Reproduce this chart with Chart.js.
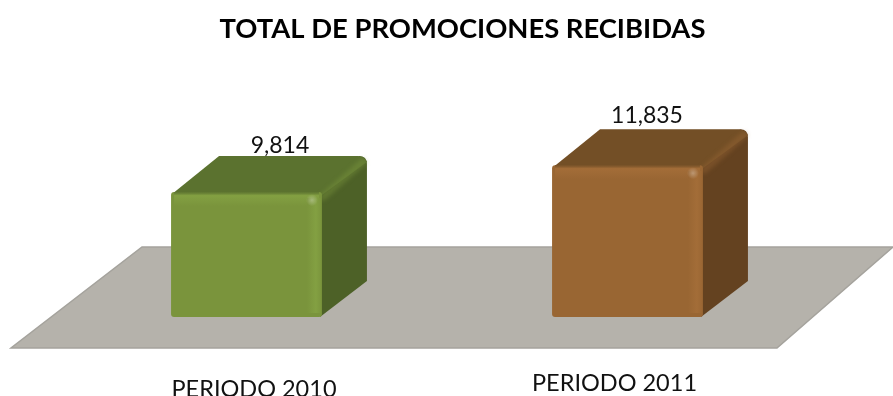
<!DOCTYPE html>
<html>
<head>
<meta charset="utf-8">
<script src="https://cdn.jsdelivr.net/npm/chart.js@4"></script>
<style>
  html, body { margin: 0; background: #fff; overflow: hidden; }
  canvas { display: block; }
</style>
</head>
<body>
<canvas id="chart" width="893" height="396"></canvas>
<script>
const periods = ['PERIODO 2010', 'PERIODO 2011'];
const promociones = [9814, 11835];
const chartTitle = 'TOTAL DE PROMOCIONES RECIBIDAS';
const axisMin = 460;
const axisMax = 15000;

const frontColors = ['#7a943c', '#996633'];
const edgeColors = ['#83a042', '#a36d38'];
const topColors = ['#5b722f', '#734f26'];
const sideColors = ['#4d6127', '#644220'];

// the original labels are not quite centred on their bars
const valueNudge = [[11, -3], [-3, -6]];
const tickNudge = [[7.5, 80], [-13, 74]];

const DEPTH_X = 45;
const DEPTH_Y = 36;
const TITLE_CENTER = 462.5;
const FONT = 'Lato, "Open Sans", sans-serif';

// Flat grey floor and the side/top faces go behind the bars
function drawFloor(chart) {
  const { ctx, chartArea } = chart;
  const b = chartArea.bottom;
  ctx.save();
  ctx.beginPath();
  ctx.moveTo(142, b - 70);
  ctx.lineTo(893, b - 70);
  ctx.lineTo(777, b + 31);
  ctx.lineTo(11, b + 31);
  ctx.closePath();
  ctx.fillStyle = '#b5b2ab';
  ctx.fill();
  ctx.strokeStyle = '#a5a39d';
  ctx.lineWidth = 1.5;
  ctx.stroke();
  ctx.restore();
}

function drawBack(ctx, bar, i) {
  const l = bar.x - bar.width / 2;
  const r = bar.x + bar.width / 2;
  const t = bar.y;
  const b = bar.base;

  ctx.fillStyle = sideColors[i];
  ctx.beginPath();
  ctx.moveTo(r - 2, t + 2);
  ctx.lineTo(r + DEPTH_X - 8, t - DEPTH_Y);
  ctx.quadraticCurveTo(r + DEPTH_X, t - DEPTH_Y, r + DEPTH_X, t - DEPTH_Y + 8);
  ctx.lineTo(r + DEPTH_X, b - DEPTH_Y);
  ctx.lineTo(r - 2, b);
  ctx.closePath();
  ctx.fill();

  ctx.fillStyle = topColors[i];
  ctx.beginPath();
  ctx.moveTo(l + 1, t + 2);
  ctx.lineTo(l + DEPTH_X + 3, t - DEPTH_Y);
  ctx.lineTo(r + DEPTH_X - 9, t - DEPTH_Y);
  ctx.quadraticCurveTo(r + DEPTH_X - 3, t - DEPTH_Y, r + DEPTH_X, t - DEPTH_Y + 6);
  ctx.lineTo(r, t + 3);
  ctx.closePath();
  ctx.fill();

  // soft lit edge between top and side
  ctx.save();
  ctx.strokeStyle = edgeColors[i];
  ctx.globalAlpha = 0.35;
  ctx.lineWidth = 7;
  ctx.lineCap = 'round';
  ctx.filter = 'blur(2px)';
  ctx.beginPath();
  ctx.moveTo(r + 1, t + 5);
  ctx.lineTo(r + DEPTH_X - 4, t - DEPTH_Y + 6);
  ctx.stroke();
  ctx.restore();
}

function drawBevel(ctx, bar, i) {
  const l = bar.x - bar.width / 2;
  const r = bar.x + bar.width / 2;
  const t = bar.y;
  const b = bar.base;

  ctx.save();
  let g = ctx.createLinearGradient(0, t, 0, t + 14);
  g.addColorStop(0, topColors[i]);
  g.addColorStop(0.25, edgeColors[i]);
  g.addColorStop(1, frontColors[i]);
  ctx.fillStyle = g;
  ctx.fillRect(l + 3, t, bar.width - 6, 14);

  g = ctx.createLinearGradient(r - 15, 0, r, 0);
  g.addColorStop(0, frontColors[i]);
  g.addColorStop(0.6, edgeColors[i]);
  g.addColorStop(1, frontColors[i]);
  ctx.fillStyle = g;
  ctx.fillRect(r - 15, t + 6, 14, b - t - 10);

  // small specular spot on the corner
  g = ctx.createRadialGradient(r - 10, t + 8, 0, r - 10, t + 8, 6);
  g.addColorStop(0, 'rgba(255,255,255,0.3)');
  g.addColorStop(1, 'rgba(255,255,255,0)');
  ctx.fillStyle = g;
  ctx.fillRect(r - 16, t + 2, 12, 12);
  ctx.restore();
}

const boxPlugin = {
  id: 'box3d',
  afterLayout(chart) {
    // the title sits right of the plot's centre in the original
    const shift = TITLE_CENTER - (chart.titleBlock.left + chart.titleBlock.right) / 2;
    chart.titleBlock.left += shift;
    chart.titleBlock.right += shift;
  },
  beforeDatasetsDraw(chart) {
    drawFloor(chart);
    chart.getDatasetMeta(0).data.forEach((bar, i) => drawBack(chart.ctx, bar, i));
  },
  afterDatasetsDraw(chart) {
    const ctx = chart.ctx;
    chart.getDatasetMeta(0).data.forEach((bar, i) => {
      drawBevel(ctx, bar, i);

      ctx.save();
      ctx.fillStyle = '#111';
      ctx.font = '23px ' + FONT;
      ctx.textAlign = 'center';
      ctx.textBaseline = 'alphabetic';
      ctx.fillText(promociones[i].toLocaleString('en-US'),
        bar.x + DEPTH_X / 2 + valueNudge[i][0], bar.y - DEPTH_Y + valueNudge[i][1]);

      ctx.font = '23.5px ' + FONT;
      ctx.fillText(periods[i], bar.x + tickNudge[i][0], bar.base + tickNudge[i][1]);
      ctx.restore();
    });
  }
};

new Chart(document.getElementById('chart'), {
  type: 'bar',
  data: {
    labels: periods,
    datasets: [{
      data: promociones,
      base: axisMin,
      backgroundColor: frontColors,
      borderWidth: 0,
      borderRadius: 3,
      borderSkipped: false,
      barPercentage: 0.396,
      categoryPercentage: 1
    }]
  },
  plugins: [boxPlugin],
  options: {
    responsive: false,
    animation: false,
    layout: { padding: { left: 56, right: 75, top: 0, bottom: 79 } },
    scales: {
      x: { display: false },
      y: { display: false, min: axisMin, max: axisMax }
    },
    plugins: {
      legend: { display: false },
      tooltip: { enabled: false },
      title: {
        display: true,
        text: chartTitle,
        color: '#000',
        font: { family: FONT, size: 27.4, weight: 'bold' },
        padding: { top: 13, bottom: 77 }
      }
    }
  }
});
</script>
</body>
</html>
